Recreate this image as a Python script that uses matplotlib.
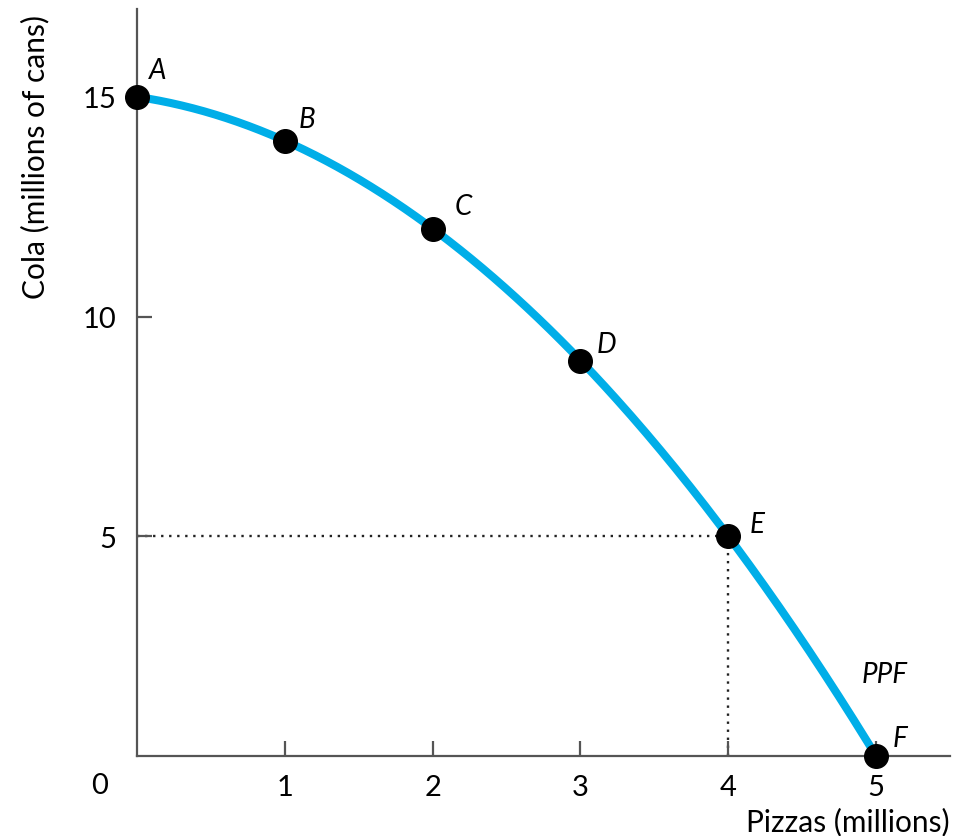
import numpy as np
import matplotlib.pyplot as plt

# PPF points (pizzas in millions, cola in millions of cans)
pizzas = [0, 1, 2, 3, 4, 5]
cola = [15, 14, 12, 9, 5, 0]
point_labels = ["A", "B", "C", "D", "E", "F"]
label_offsets = [(15, 19), (16, 16), (22, 16), (19, 12), (21, 9), (17, 13)]

x_ticks = [1, 2, 3, 4, 5]
y_ticks = [5, 10, 15]

plt.rcParams['font.family'] = ['Lato', 'DejaVu Sans']
fig = plt.figure(figsize=(9.61, 8.37), dpi=100)
ax = fig.add_axes([0.1426, 0.0956, 0.846, 0.8925])

ax.set_xlim(0, 5.5)
ax.set_ylim(0, 17)

# smooth frontier through the points
coef = np.polyfit(pizzas, cola, 2)
xs = np.linspace(pizzas[0], pizzas[-1], 200)
ax.plot(xs, np.polyval(coef, xs), color="#00aee8", lw=5.8, solid_capstyle="butt", zorder=2)

# guide lines to point E
ax.plot([0, pizzas[4]], [cola[4], cola[4]], color="#222222", lw=1.7, ls=(0, (1, 2.4)), zorder=1)
ax.plot([pizzas[4], pizzas[4]], [0, cola[4]], color="#222222", lw=1.7, ls=(0, (1, 2.4)), zorder=1)

ax.plot(pizzas, cola, "o", color="black", ms=17, zorder=3, clip_on=False)
for x, y, lab, off in zip(pizzas, cola, point_labels, label_offsets):
    ax.annotate(lab, (x, y), xytext=off, textcoords="offset points",
                ha="center", va="center", fontsize=20, style="italic")

ax.text(5.06, 1.86, "PPF", ha="center", va="center", fontsize=20, style="italic")

for side in ["top", "right"]:
    ax.spines[side].set_visible(False)
for side in ["left", "bottom"]:
    ax.spines[side].set_color("#555555")
    ax.spines[side].set_linewidth(1.6)

ax.set_xticks(x_ticks)
ax.set_yticks(y_ticks)
ax.tick_params(direction="in", length=11, width=1.6, color="#555555", labelsize=21)
ax.tick_params(axis="x", pad=13)
ax.tick_params(axis="y", pad=15)
ax.annotate("0", (0, 0), xytext=(-27, -21), textcoords="offset points",
            ha="center", va="center", fontsize=21)

ax.set_xlabel("Pizzas (millions)", fontsize=21.5)
ax.xaxis.set_label_coords(1.0, -0.068)
ax.xaxis.label.set_horizontalalignment("right")
ax.set_ylabel("Cola (millions of cans)", fontsize=21.5)
ax.yaxis.set_label_coords(-0.125, 0.993)
ax.yaxis.label.set_verticalalignment("center")
ax.yaxis.label.set_horizontalalignment("right")

fig.savefig("out.png", dpi=100)
